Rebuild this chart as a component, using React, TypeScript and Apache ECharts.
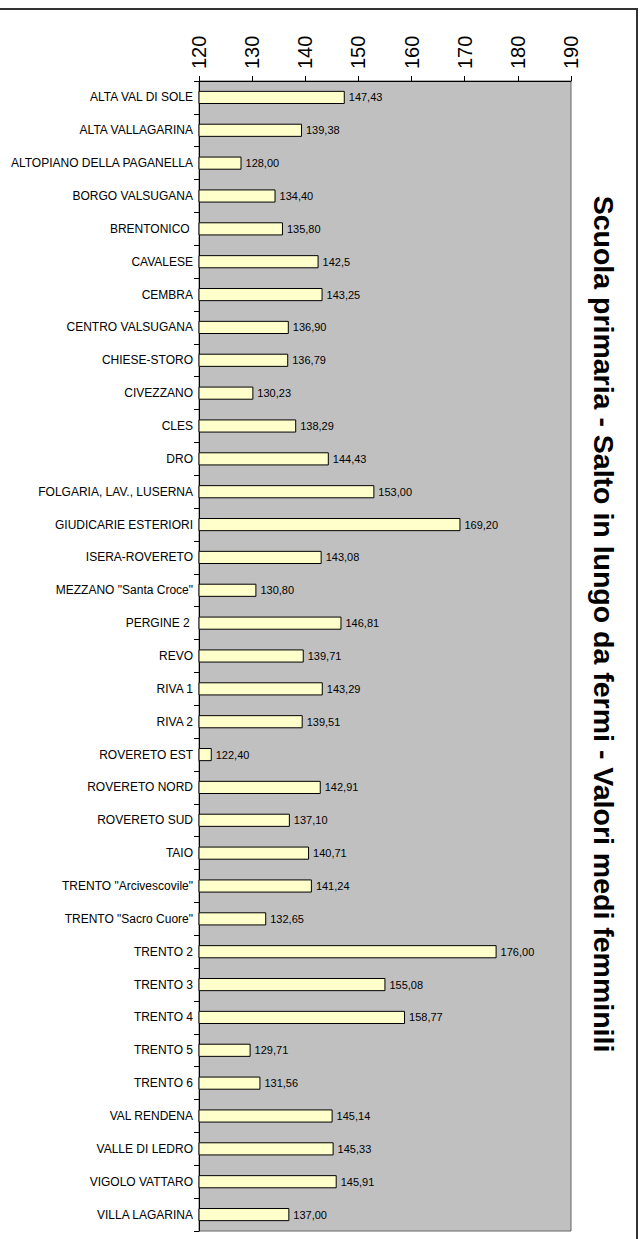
import React, { useEffect, useRef } from "react";
import * as echarts from "echarts";

const categories: string[] = [
  "ALTA VAL DI SOLE",
  "ALTA VALLAGARINA",
  "ALTOPIANO DELLA PAGANELLA",
  "BORGO VALSUGANA",
  "BRENTONICO ",
  "CAVALESE",
  "CEMBRA",
  "CENTRO VALSUGANA",
  "CHIESE-STORO",
  "CIVEZZANO",
  "CLES",
  "DRO",
  "FOLGARIA, LAV., LUSERNA",
  "GIUDICARIE ESTERIORI",
  "ISERA-ROVERETO",
  "MEZZANO \"Santa Croce\"",
  "PERGINE 2 ",
  "REVO",
  "RIVA 1",
  "RIVA 2",
  "ROVERETO EST",
  "ROVERETO NORD",
  "ROVERETO SUD",
  "TAIO",
  "TRENTO \"Arcivescovile\"",
  "TRENTO \"Sacro Cuore\"",
  "TRENTO 2",
  "TRENTO 3",
  "TRENTO 4",
  "TRENTO 5",
  "TRENTO 6",
  "VAL RENDENA",
  "VALLE DI LEDRO",
  "VIGOLO VATTARO",
  "VILLA LAGARINA",
];

const values: number[] = [
  147.43, 139.38, 128.0, 134.4, 135.8, 142.5, 143.25, 136.9, 136.79, 130.23,
  138.29, 144.43, 153.0, 169.2, 143.08, 130.8, 146.81, 139.71, 143.29, 139.51,
  122.4, 142.91, 137.1, 140.71, 141.24, 132.65, 176.0, 155.08, 158.77, 129.71,
  131.56, 145.14, 145.33, 145.91, 137.0,
];

const valueLabels: string[] = [
  "147,43", "139,38", "128,00", "134,40", "135,80", "142,5", "143,25", "136,90", "136,79", "130,23",
  "138,29", "144,43", "153,00", "169,20", "143,08", "130,80", "146,81", "139,71", "143,29", "139,51",
  "122,40", "142,91", "137,10", "140,71", "141,24", "132,65", "176,00", "155,08", "158,77", "129,71",
  "131,56", "145,14", "145,33", "145,91", "137,00",
];

const axisMin = 120;
const axisMax = 190;
const axisInterval = 10;

const titleText = "Scuola primaria - Salto in lungo da fermi - Valori medi femminili";

export default function App() {
  const ref = useRef<HTMLDivElement>(null);
  useEffect(() => {
    if (!ref.current) return;
    const chart = echarts.init(ref.current, null, { renderer: "svg" });
    const font = "Arial, 'Liberation Sans', sans-serif";
    chart.setOption({
      animation: false,
      backgroundColor: "#ffffff",
      grid: {
        left: 199,
        right: 71,
        top: 81,
        bottom: 8,
        show: true,
        backgroundColor: "#C0C0C0",
        borderColor: "#666666",
        borderWidth: 1,
      },
      xAxis: {
        type: "value",
        position: "top",
        min: axisMin,
        max: axisMax,
        interval: axisInterval,
        axisLine: { show: true, lineStyle: { color: "#000", width: 1 } },
        axisTick: { show: true, inside: false, length: 5, lineStyle: { color: "#000" } },
        splitLine: { show: false },
        axisLabel: {
          rotate: -90,
          margin: 12,
          fontSize: 20,
          fontFamily: font,
          color: "#000",
        },
      },
      yAxis: {
        type: "category",
        data: categories,
        inverse: true,
        axisLine: { show: true, lineStyle: { color: "#000", width: 1 } },
        axisTick: { show: true, inside: false, length: 5, alignWithLabel: false, lineStyle: { color: "#000" } },
        splitLine: { show: false },
        axisLabel: {
          margin: 6,
          fontSize: 12,
          fontFamily: font,
          color: "#000",
        },
      },
      series: [
        {
          type: "bar",
          data: values,
          barWidth: "40%",
          itemStyle: { color: "#FFFFCC", borderColor: "#000", borderWidth: 1 },
          label: {
            show: true,
            position: "right",
            distance: 4,
            fontSize: 11,
            fontFamily: font,
            color: "#000",
            formatter: (p: any) => valueLabels[p.dataIndex],
          },
        },
      ],
      graphic: [
        {
          type: "polyline",
          shape: { points: [[0, 9], [637, 9], [637, 1239]] },
          style: { stroke: "#333", lineWidth: 2, fill: null },
          silent: true,
        },
        {
          type: "text",
          x: 604,
          y: 624,
          rotation: -Math.PI / 2,
          style: {
            text: titleText,
            fontSize: 28.5,
            fontWeight: "bold",
            fontFamily: font,
            fill: "#000",
            align: "center",
            verticalAlign: "middle",
          },
        },
      ],
    });
    return () => chart.dispose();
  }, []);
  return (
    <div
      ref={ref}
      style={{ position: "absolute", left: 0, top: 0, width: 642, height: 1239 }}
    />
  );
}
